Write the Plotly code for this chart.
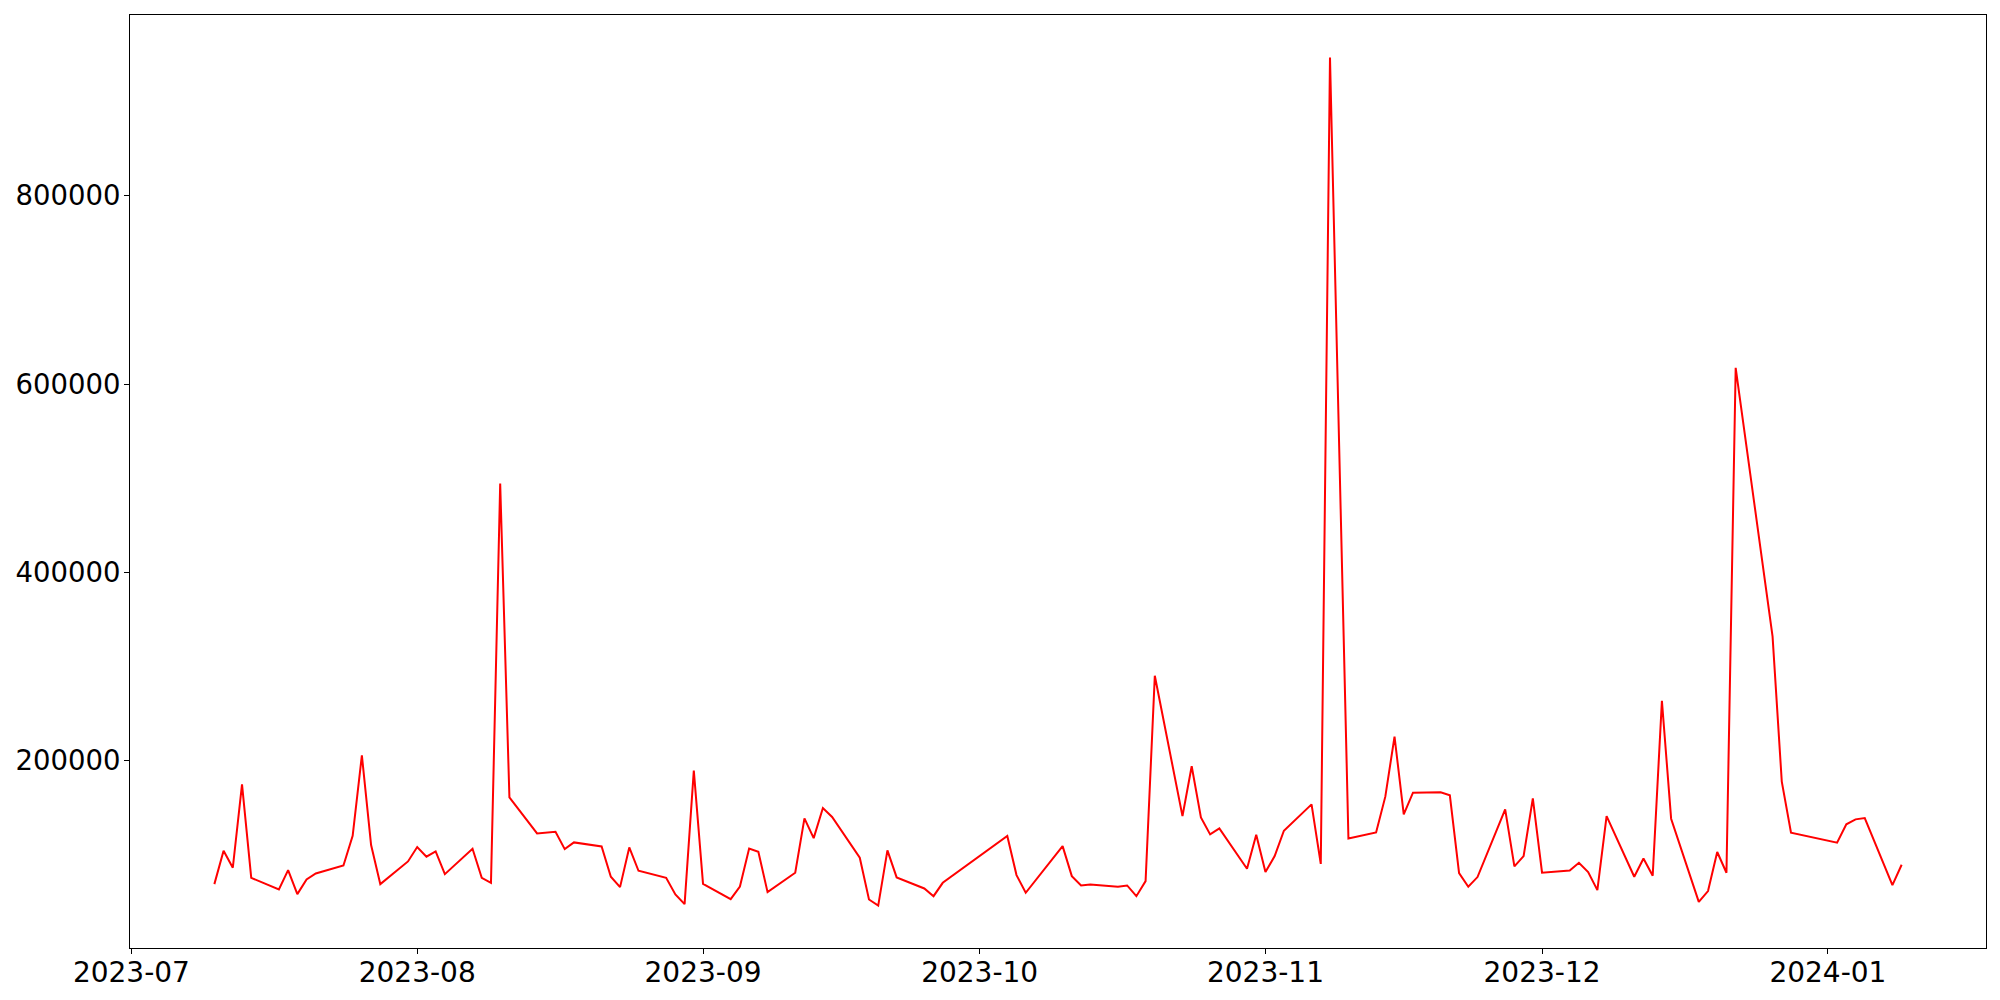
import plotly.graph_objects as go
from datetime import datetime

# daily values (weekdays, some gaps)
dates = [
    "2023-07-10", "2023-07-11", "2023-07-12", "2023-07-13", "2023-07-14",
    "2023-07-17", "2023-07-18", "2023-07-19", "2023-07-20", "2023-07-21",
    "2023-07-24", "2023-07-25", "2023-07-26", "2023-07-27", "2023-07-28",
    "2023-07-31", "2023-08-01", "2023-08-02", "2023-08-03", "2023-08-04",
    "2023-08-07", "2023-08-08", "2023-08-09", "2023-08-10", "2023-08-11",
    "2023-08-14", "2023-08-16", "2023-08-17", "2023-08-18",
    "2023-08-21", "2023-08-22", "2023-08-23", "2023-08-24", "2023-08-25",
    "2023-08-28", "2023-08-29", "2023-08-30", "2023-08-31", "2023-09-01",
    "2023-09-04", "2023-09-05", "2023-09-06", "2023-09-07", "2023-09-08",
    "2023-09-11", "2023-09-12", "2023-09-13", "2023-09-14", "2023-09-15",
    "2023-09-18", "2023-09-19", "2023-09-20", "2023-09-21", "2023-09-22",
    "2023-09-25", "2023-09-26", "2023-09-27",
    "2023-10-04", "2023-10-05", "2023-10-06",
    "2023-10-10", "2023-10-11", "2023-10-12", "2023-10-13",
    "2023-10-16", "2023-10-17", "2023-10-18", "2023-10-19", "2023-10-20",
    "2023-10-23", "2023-10-24", "2023-10-25", "2023-10-26", "2023-10-27",
    "2023-10-30", "2023-10-31", "2023-11-01", "2023-11-02", "2023-11-03",
    "2023-11-06", "2023-11-07", "2023-11-08", "2023-11-10",
    "2023-11-13", "2023-11-14", "2023-11-15", "2023-11-16", "2023-11-17",
    "2023-11-20", "2023-11-21", "2023-11-22", "2023-11-23", "2023-11-24",
    "2023-11-27", "2023-11-28", "2023-11-29", "2023-11-30", "2023-12-01",
    "2023-12-04", "2023-12-05", "2023-12-06", "2023-12-07", "2023-12-08",
    "2023-12-11", "2023-12-12", "2023-12-13", "2023-12-14", "2023-12-15",
    "2023-12-18", "2023-12-19", "2023-12-20", "2023-12-21", "2023-12-22",
    "2023-12-26", "2023-12-27", "2023-12-28",
    "2024-01-02", "2024-01-03", "2024-01-04", "2024-01-05",
    "2024-01-08", "2024-01-09",
]
values = [
    68800, 104300, 86200, 174800, 75500,
    63100, 83700, 58200, 73800, 80100,
    88600, 120200, 205600, 110300, 68800,
    92900, 108200, 97900, 103500, 79400,
    106400, 75500, 70200, 494300, 161000,
    122700, 124500, 106000, 113100,
    108800, 76600, 65600, 107800, 83000,
    75500, 57800, 47500, 189400, 69100,
    52800, 66300, 106700, 103200, 60300,
    80900, 138600, 117700, 149600, 140100,
    96800, 52500, 46000, 104600, 75900,
    64200, 56000, 70200,
    119900, 78400, 59600,
    109200, 77300, 67400, 68400,
    66000, 67400, 56000, 72000, 290100,
    141100, 194000, 139700, 121600, 128000,
    85100, 121300, 81600, 98600, 125500,
    153500, 90300, 947000, 117300,
    123700, 161700, 225500, 142900, 166000,
    166300, 163100, 80500, 66000, 76300,
    148200, 87600, 98600, 159900, 80900,
    83300, 91500, 81600, 62400, 141100,
    76600, 96100, 77700, 263500, 138300,
    50000, 61400, 102900, 80900, 617300,
    331900, 177700, 123400,
    112800, 132300, 137600, 139000,
    67800, 89400,
]
month_ticks = ["2023-07-01", "2023-08-01", "2023-09-01", "2023-10-01",
               "2023-11-01", "2023-12-01", "2024-01-01"]
y_ticks = [200000, 400000, 600000, 800000]

# matplotlib-like 5% padding on both axes
x0 = datetime.fromisoformat(dates[0])
x1 = datetime.fromisoformat(dates[-1])
xpad = (x1 - x0) * 0.05
ymin, ymax = min(values), max(values)
ypad = (ymax - ymin) * 0.05

fig = go.Figure(go.Scatter(x=dates, y=values, mode='lines',
                           line=dict(color='#ff0000', width=2)))

# page body has an 8px margin, so the figure is sized/offset to compensate
fig.update_layout(width=1992, height=992,
                  margin=dict(l=122, r=14, t=7, b=52),
                  plot_bgcolor='white', paper_bgcolor='white',
                  showlegend=False,
                  font=dict(family='DejaVu Sans', size=28, color='black'))

axis_style = dict(ticks='outside', ticklen=5, tickwidth=1, tickcolor='black',
                  showline=True, linecolor='black', linewidth=1, mirror=True,
                  showgrid=False, zeroline=False, automargin=False)
fig.update_xaxes(range=[x0 - xpad, x1 + xpad], tickvals=month_ticks,
                 tickformat='%Y-%m', ticklabelstandoff=-6, **axis_style)
fig.update_yaxes(range=[ymin - ypad, ymax + ypad], tickvals=y_ticks,
                 tickformat='d', ticklabelstandoff=-2,
                 tickfont=dict(size=27.5), **axis_style)

fig.write_html("out.html")
